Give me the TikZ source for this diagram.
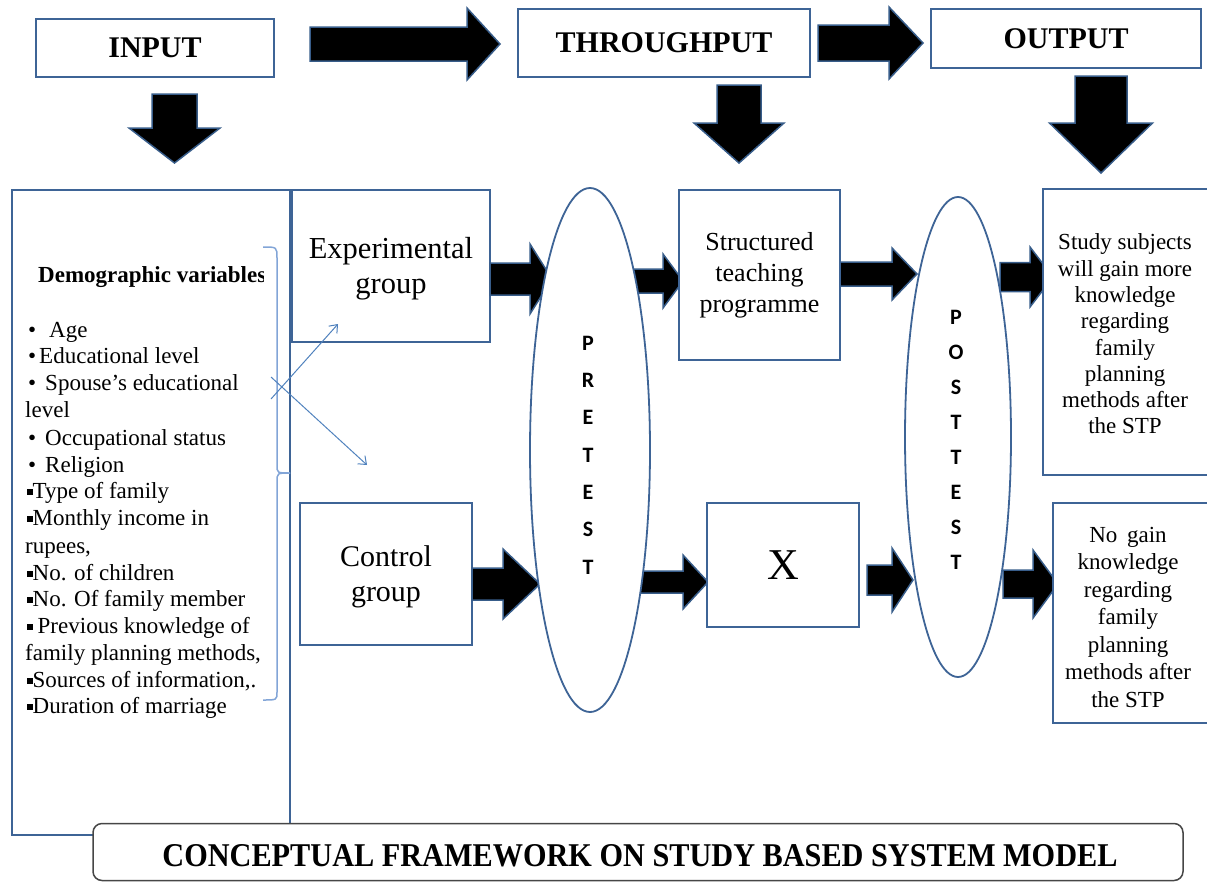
\documentclass[tikz,border=0pt]{standalone}
\usepackage{fontspec}
\setmainfont{Liberation Serif}
\newfontfamily\calib{Carlito}
\usetikzlibrary{shapes.geometric,arrows.meta}
\definecolor{boxblue}{RGB}{62,100,150}
\definecolor{arrblue}{RGB}{56,93,138}
\definecolor{lineblue}{RGB}{79,129,189}
\definecolor{brblue}{RGB}{130,165,215}
\definecolor{ttlgray}{RGB}{70,70,70}
% right block arrow: tail x, head start x, tip x, centre y, shaft half, head half
\newcommand{\blkR}[6]{\filldraw[blockarrow] ({#1},{#4-#5}) -- ({#2},{#4-#5}) -- ({#2},{#4-#6}) -- ({#3},{#4}) -- ({#2},{#4+#6}) -- ({#2},{#4+#5}) -- ({#1},{#4+#5}) -- cycle;}
% down block arrow: centre x, top y, head start y, tip y, shaft half, head half
\newcommand{\blkD}[6]{\filldraw[blockarrow] ({#1-#5},{#2}) -- ({#1-#5},{#3}) -- ({#1-#6},{#3}) -- ({#1},{#4}) -- ({#1+#6},{#3}) -- ({#1+#5},{#3}) -- ({#1+#5},{#2}) -- cycle;}
\newcommand{\sqb}{\rule[3pt]{5.5pt}{6pt}}
\begin{document}
\begin{tikzpicture}[x=1pt,y=-1pt,
  box/.style={draw=boxblue,line width=1.8pt,fill=white,inner sep=0pt,align=center},
  blockarrow/.style={fill=black,draw=arrblue,line width=1.5pt,line join=miter},
  oval/.style={ellipse,draw=boxblue,line width=1.8pt,fill=white,inner sep=0pt},
  lt/.style={anchor=base west,inner sep=0pt,font=\fontsize{23}{26}\selectfont},
  vert/.style={inner sep=0pt,align=center,font=\calib\bfseries\fontsize{22}{37.3}\selectfont},
]
\useasboundingbox (0,0) rectangle (1207,881);

% top row
\node[box,minimum width=238pt,minimum height=58pt,font=\bfseries\fontsize{30}{36}\selectfont] (input) at (155,48) {INPUT};
\node[box,minimum width=292pt,minimum height=68pt,font=\bfseries\fontsize{30}{36}\selectfont] (through) at (664,43) {THROUGHPUT};
\node[box,minimum width=270pt,minimum height=59pt,font=\bfseries\fontsize{30}{36}\selectfont] (output) at (1066,38.5) {OUTPUT};
\blkR{310}{467}{500}{44}{17}{36}
\blkR{818}{889}{923}{43}{18}{36}
\blkD{174.5}{94}{128}{163}{22.5}{45.5}
\blkD{739}{85}{123}{163}{22}{45}
\blkD{1101}{76}{123}{173}{26}{51.5}

% left box
\node[draw=boxblue,line width=2.5pt,minimum width=278pt,minimum height=645pt,inner sep=0pt] (leftbox) at (151,512.5) {};
\begin{scope}
\clip (12,250) rectangle (263,300);
\node[lt,font=\bfseries\fontsize{23}{26}\selectfont] (demo) at (38,282) {Demographic variables};
\end{scope}
\node[lt] (l1) at (28,337) {•\hspace{13pt}Age};
\node[lt] (l2) at (28,363) {•\hspace{3pt}Educational level};
\node[lt] (l3) at (28,390) {•\hspace{9pt}Spouse’s educational};
\node[lt] (l4) at (25,417) {level};
\node[lt] (l5) at (28,445) {•\hspace{9pt}Occupational status};
\node[lt] (l6) at (28,472) {•\hspace{9pt}Religion};
\node[lt] (l7) at (27,498) {\sqb Type of family};
\node[lt] (l8) at (27,525) {\sqb Monthly income in};
\node[lt] (l9) at (25,553) {rupees,};
\node[lt] (l10) at (27,580) {\sqb No. of children};
\node[lt] (l11) at (27,606) {\sqb No. Of family member};
\node[lt] (l12) at (27,633) {\sqb\hspace{5pt}Previous knowledge of};
\node[lt] (l13) at (25,660) {family planning methods,};
\node[lt] (l14) at (27,687) {\sqb Sources of information,.};
\node[lt] (l15) at (27,713) {\sqb Duration of marriage};

% bracket
\draw[brblue,line width=1.5pt] (263,247) .. controls (277,247) .. (277,258) -- (277,465) .. controls (277,473) .. (290,473);
\draw[brblue,line width=1.5pt] (290,473) .. controls (277,473) .. (277,482) -- (277,692) .. controls (277,700) .. (263,700);

% group boxes
\node[box,minimum width=198pt,minimum height=152pt] (exp) at (391,266) {};
\node[inner sep=0pt,align=center,font=\fontsize{30.5}{35}\selectfont] (exptxt) at (391,269) {Experimental\\group};
\node[box,minimum width=172pt,minimum height=142pt] (ctrl) at (386,574) {};
\node[inner sep=0pt,align=center,font=\fontsize{30}{35}\selectfont] (ctrltxt) at (386,577) {Control\\group};

% crossing arrows
\coordinate (c1) at (271,399);
\coordinate (c2) at (271,377);
\coordinate (e1) at (338,324);
\coordinate (e2) at (367,465);
\draw[lineblue,line width=1pt,-{Straight Barb[length=7pt,width=11pt]}] (c1) -- (e1);
\draw[lineblue,line width=1pt,-{Straight Barb[length=7pt,width=11pt]}] (c2) -- (e2);

% block arrows in the middle
\blkR{490}{530}{552}{279}{16}{35}
\blkR{472}{503}{540}{584}{16}{35}
\blkR{632}{663}{683}{281}{12}{27}
\blkR{640}{683}{708}{582}{11}{27}
\blkR{840}{892}{917}{274}{12}{26}
\blkR{867}{892}{913}{580}{15}{32}
\blkR{1000}{1030}{1053}{277}{14.5}{30}
\blkR{1003}{1033}{1058}{584}{14}{34}

% ellipses
\node[oval,minimum width=120pt,minimum height=524pt] (pre) at (590,450) {};
\node[vert] (pretxt) at (588,455) {P\\R\\E\\T\\E\\S\\T};
\node[oval,minimum width=106pt,minimum height=480pt] (post) at (958,437) {};
\node[vert,font=\calib\bfseries\fontsize{22}{35.1}\selectfont] (posttxt) at (956,440) {P\\O\\S\\T\\T\\E\\S\\T};

% throughput boxes
\node[box,minimum width=161pt,minimum height=170pt,font=\fontsize{26}{31}\selectfont] (stp) at (759.5,275) {Structured\\teaching\\programme};
\node[box,minimum width=152pt,minimum height=124pt,font=\fontsize{44}{50}\selectfont] (x) at (783,565) {X};

% output boxes
\node[box,minimum width=166pt,minimum height=286pt] (study) at (1126,332) {};
\node[inner sep=0pt,align=center,font=\fontsize{23}{26.3}\selectfont] (studytxt) at (1125,334) {Study subjects\\will gain more\\knowledge\\regarding\\family\\planning\\methods after\\the STP};
\node[box,minimum width=156pt,minimum height=220pt] (nogain) at (1131,613) {};
\node[inner sep=0pt,align=center,font=\fontsize{23}{27.5}\selectfont] (nogaintxt) at (1128,617) {No\hspace{4pt} gain\\knowledge\\regarding\\family\\planning\\methods after\\the STP};

% title
\node[draw=ttlgray,line width=1.5pt,rounded corners=9pt,fill=white,minimum width=1090pt,minimum height=57pt,inner sep=0pt] (title) at (638,852) {};
\node[inner sep=0pt] (titletxt) at (640,856) {\resizebox{955pt}{22pt}{\bfseries CONCEPTUAL FRAMEWORK ON STUDY BASED SYSTEM MODEL}};
\end{tikzpicture}
\end{document}
